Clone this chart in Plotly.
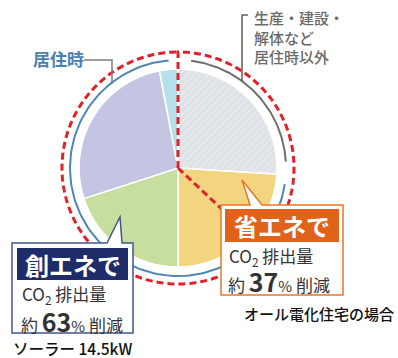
import numpy as np
import plotly.graph_objects as go

# Lifecycle CO2 breakdown of an all-electric house (shares of the whole, %)
slice_names = ["生産・建設・解体など", "省エネ分", "創エネ分", "居住時(その他)", "居住時(残り)"]
slice_values = [26, 24, 20, 27, 3]
slice_colors = ["#dde2e7", "#f2d57e", "#c8de9f", "#c4c5e3", "#b5e0ea"]

# Reduction figures shown in the callouts (%)
saving_pct = 37
creation_pct = 63
solar_kw = 14.5

W, H = 398, 358
CX, CY, R = 178, 168, 99          # pie centre / radius in px
R_ARC = 108                        # grouping arcs
R_RED = 116                        # red dashed outline

FONT = "Noto Sans CJK JP"


def polar(angle_deg, r):
    """Clockwise angle from 12 o'clock -> pixel coords."""
    a = np.radians(angle_deg)
    return CX + r * np.sin(a), CY - r * np.cos(a)


def arc_points(a0, a1, r, n=120):
    t = np.linspace(a0, a1, n)
    return polar(t, r)


fig = go.Figure()

# Pie
fig.add_trace(go.Pie(
    labels=slice_names, values=slice_values, sort=False, direction="clockwise",
    rotation=0, textinfo="none", hoverinfo="label+percent",
    marker=dict(colors=slice_colors, line=dict(color="white", width=1.5),
                pattern=dict(shape=["/", "", "", "", ""], fgcolor="#eceff2",
                             bgcolor=slice_colors, fgopacity=1, size=5, solidity=0.2)),
    domain=dict(x=[(CX - R) / W, (CX + R) / W],
                y=[(H - CY - R) / H, (H - CY + R) / H]),
    showlegend=False,
))

# Grouping arcs: slice 0 (outside living time) and slices 1.. (living time)
cum = np.cumsum([0] + slice_values) / sum(slice_values) * 360
gap = 5
gx, gy = arc_points(cum[0] + gap + 2, cum[1] - gap - 2, R_ARC)
fig.add_trace(go.Scatter(x=gx, y=gy, mode="lines", line=dict(color="#707070", width=2),
                         hoverinfo="skip", showlegend=False))
bx, by = arc_points(cum[1] + gap, cum[-1] - gap, R_ARC)
fig.add_trace(go.Scatter(x=bx, y=by, mode="lines", line=dict(color="#4f86b5", width=2),
                         hoverinfo="skip", showlegend=False))

shapes = []

# Red dashed outline: full circle plus radii splitting saving / creation
rx, ry = arc_points(0, 360, R_RED, 240)
top_x, top_y = polar(0, R_RED)
split_x, split_y = polar(saving_pct / 100 * 360, R_RED)
path = f"M {CX},{CY} L {top_x:.2f},{top_y:.2f} " + " ".join(
    f"L {x:.2f},{y:.2f}" for x, y in zip(rx, ry))
path += f" M {CX},{CY} L {split_x:.2f},{split_y:.2f}"
shapes.append(dict(type="path", path=path, xref="x", yref="y",
                   line=dict(color="#e0202a", width=3, dash="7px,4px"), layer="above"))

# Leader lines
shapes.append(dict(type="path", path="M 84,60 L 112,60 L 112,84", xref="x", yref="y",
                   line=dict(color="#808080", width=1.5), layer="above"))
shapes.append(dict(type="path", path="M 248,15 L 242,15 L 242,81", xref="x", yref="y",
                   line=dict(color="#606060", width=1.5), layer="above"))

# Callout: energy creation (navy)
shapes.append(dict(type="path", xref="x", yref="y", layer="above",
                   path="M 12,243 L 107,243 L 120,217 L 122,243 L 133,243 L 133,333 L 12,333 Z",
                   fillcolor="white", line=dict(color="#44548c", width=1.5)))
shapes.append(dict(type="rect", xref="x", yref="y", layer="above",
                   x0=17, y0=248, x1=128, y1=280, fillcolor="#1e2c6a", line=dict(width=0)))

# Callout: energy saving (orange)
shapes.append(dict(type="path", xref="x", yref="y", layer="above",
                   path="M 221,205 L 250,205 L 242,180 L 262,205 L 343,205 L 343,295 L 221,295 Z",
                   fillcolor="white", line=dict(color="#e8742a", width=1.5)))
shapes.append(dict(type="rect", xref="x", yref="y", layer="above",
                   x0=225, y0=209, x1=339, y1=242, fillcolor="#e0621b", line=dict(width=0)))

ann = []


def text(x, y, s, size=14, color="#333333", xanchor="left", weight="normal", **kw):
    ann.append(dict(x=x, y=y, xref="x", yref="y", text=s, showarrow=False,
                    xanchor=xanchor, yanchor="middle",
                    font=dict(family=FONT, size=size, color=color, weight=weight), **kw))


def amount_text(pct):
    return (f"約 <span style='font-size:25px;font-weight:bold'>{pct}</span>"
            "<span style='font-size:15px'>%</span> 削減")


text(31, 58, "<b>居住時</b>", size=17, color="#4a80b0")
text(252, 37, "生産・建設・<br>解体など<br>居住時以外", size=15, color="#6a6a6a",
     align="left", weight=500)

text(72.5, 264, "<b>創エネで</b>", size=24, color="white", xanchor="center")
text(20, 294, "CO<sub>2</sub> 排出量", size=17)
text(19, 321, amount_text(creation_pct), size=17)

text(282, 225.5, "<b>省エネで</b>", size=24, color="white", xanchor="center")
text(227, 256, "CO<sub>2</sub> 排出量", size=17)
text(226, 281, amount_text(saving_pct), size=17)

text(11, 348, f"ソーラー {solar_kw}kW", size=15.5, color="#111111", weight=500)
text(242, 313, "オール電化住宅の場合", size=15, color="#111111", weight=500)

fig.update_layout(
    width=W, height=H, margin=dict(l=0, r=0, t=0, b=0),
    paper_bgcolor="white", plot_bgcolor="rgba(0,0,0,0)",
    xaxis=dict(range=[0, W], visible=False, fixedrange=True),
    yaxis=dict(range=[H, 0], visible=False, fixedrange=True),
    shapes=shapes, annotations=ann, showlegend=False,
)

fig.write_html("out.html")
